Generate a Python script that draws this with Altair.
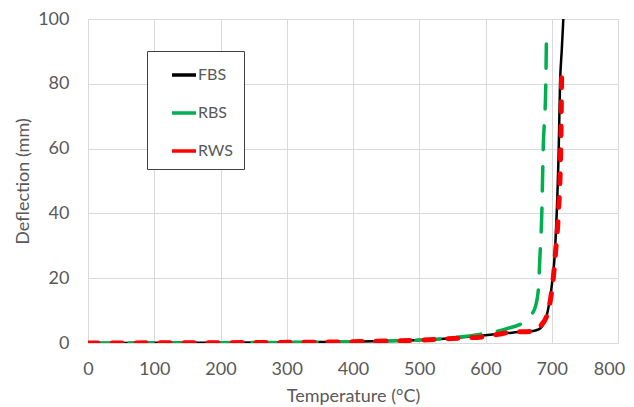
import altair as alt
import pandas as pd

# ---- data ----
series_names = ["FBS", "RBS", "RWS"]
series_colors = ["#000000", "#00B050", "#FF0000"]

fbs_t = [0, 100, 200, 300, 400, 450, 500, 550, 600, 620, 640, 660, 672, 680, 685, 692, 697, 701, 705, 707.5, 710.5, 712.5, 715, 717.5]
fbs_d = [0, 0.05, 0.1, 0.2, 0.4, 0.6, 0.9, 1.5, 2.4, 2.8, 3.2, 3.5, 3.7, 4.2, 5.0, 8.1, 13.3, 19.4, 28.7, 40, 59.6, 80, 90, 100]

rbs_t = [0, 100, 200, 300, 400, 450, 500, 550, 600, 630, 662, 668, 675, 680, 682, 685, 687, 691, 692]
rbs_d = [0, 0.05, 0.1, 0.2, 0.4, 0.6, 0.9, 1.6, 3.0, 4.3, 7.0, 8.5, 11, 17, 26, 40, 59, 80, 95]

rws_t = [0, 100, 200, 300, 400, 450, 500, 550, 600, 622, 640, 662, 677, 681, 686, 692, 698, 702, 706, 710, 713.5, 715]
rws_d = [0, 0.05, 0.1, 0.2, 0.4, 0.6, 0.9, 1.4, 2.0, 2.8, 3.4, 3.5, 4.0, 4.8, 6.0, 8.1, 13.3, 19.4, 28.7, 40, 59.6, 83]

x_ticks = [0, 100, 200, 300, 400, 500, 600, 700, 800]
y_ticks = [0, 20, 40, 60, 80, 100]

frames = []
for name, t, d in [("FBS", fbs_t, fbs_d), ("RBS", rbs_t, rbs_d), ("RWS", rws_t, rws_d)]:
    frames.append(pd.DataFrame({"series": name, "T": t, "D": d, "order": range(len(t))}))
df = pd.concat(frames, ignore_index=True)

FONT = "Lato"
GREY = "#595959"

x_enc = alt.X(
    "T:Q",
    scale=alt.Scale(domain=[0, 800], nice=False),
    axis=alt.Axis(
        values=x_ticks, title="Temperature (°C)", grid=True, gridColor="#d9d9d9",
        domainColor="#d9d9d9", ticks=False, labelFont=FONT, labelFontSize=18,
        labelColor=GREY, labelPadding=17, labelFlush=False,
        labelOffset={"condition": {"test": "datum.value == 800", "value": -9}, "value": 0},
        titleFont=FONT, titleFontSize=18,
        titleColor=GREY, titleFontWeight="normal", titleBaseline="alphabetic",
        titleY=58,
    ),
)
y_enc = alt.Y(
    "D:Q",
    scale=alt.Scale(domain=[0, 100], nice=False),
    axis=alt.Axis(
        values=y_ticks, title="Deflection (mm)", grid=True, gridColor="#d9d9d9",
        domain=False, ticks=False, labelFont=FONT, labelFontSize=18,
        labelColor=GREY, labelPadding=19, labelFlush=False, titleFont=FONT, titleFontSize=18,
        titleColor=GREY, titleFontWeight="normal", titleBaseline="alphabetic",
        titleX=-60, titleY=162,
    ),
)
color_enc = alt.Color(
    "series:N",
    scale=alt.Scale(domain=series_names, range=series_colors),
    legend=alt.Legend(
        title=None, orient="none", legendX=59, legendY=32,
        strokeColor="#404040", fillColor="white", padding=10,
        symbolType="stroke", symbolSize=576, symbolStrokeWidth=3.5,
        symbolOffset=13, symbolDash=[1, 0], rowPadding=16,
        labelFont=FONT, labelFontSize=16, labelColor=GREY, labelOffset=0,
    ),
)

base = alt.Chart(df)
fbs = base.transform_filter(alt.datum.series == "FBS").mark_line(
    strokeWidth=2.5, interpolate="monotone", clip=True
).encode(x=x_enc, y=y_enc, color=color_enc, order="order:Q")
rbs = base.transform_filter(alt.datum.series == "RBS").mark_line(
    strokeWidth=3.5, strokeDash=[24, 17], strokeCap="round", interpolate="monotone", clip=True
).encode(x=x_enc, y=y_enc, color=color_enc, order="order:Q")
rws = base.transform_filter(alt.datum.series == "RWS").mark_line(
    strokeWidth=5, strokeDash=[10, 14], strokeCap="round", interpolate="monotone", clip=True
).encode(x=x_enc, y=y_enc, color=color_enc, order="order:Q")

chart = alt.layer(fbs, rbs, rws).properties(
    width=530, height=324,
    padding={"left": 80, "top": 11, "right": 8, "bottom": 64},
    autosize=alt.AutoSizeParams(type="none"),
).configure_view(stroke=None).configure(background="white")

chart.save("out.html", embed_options={"renderer": "svg", "actions": False})
